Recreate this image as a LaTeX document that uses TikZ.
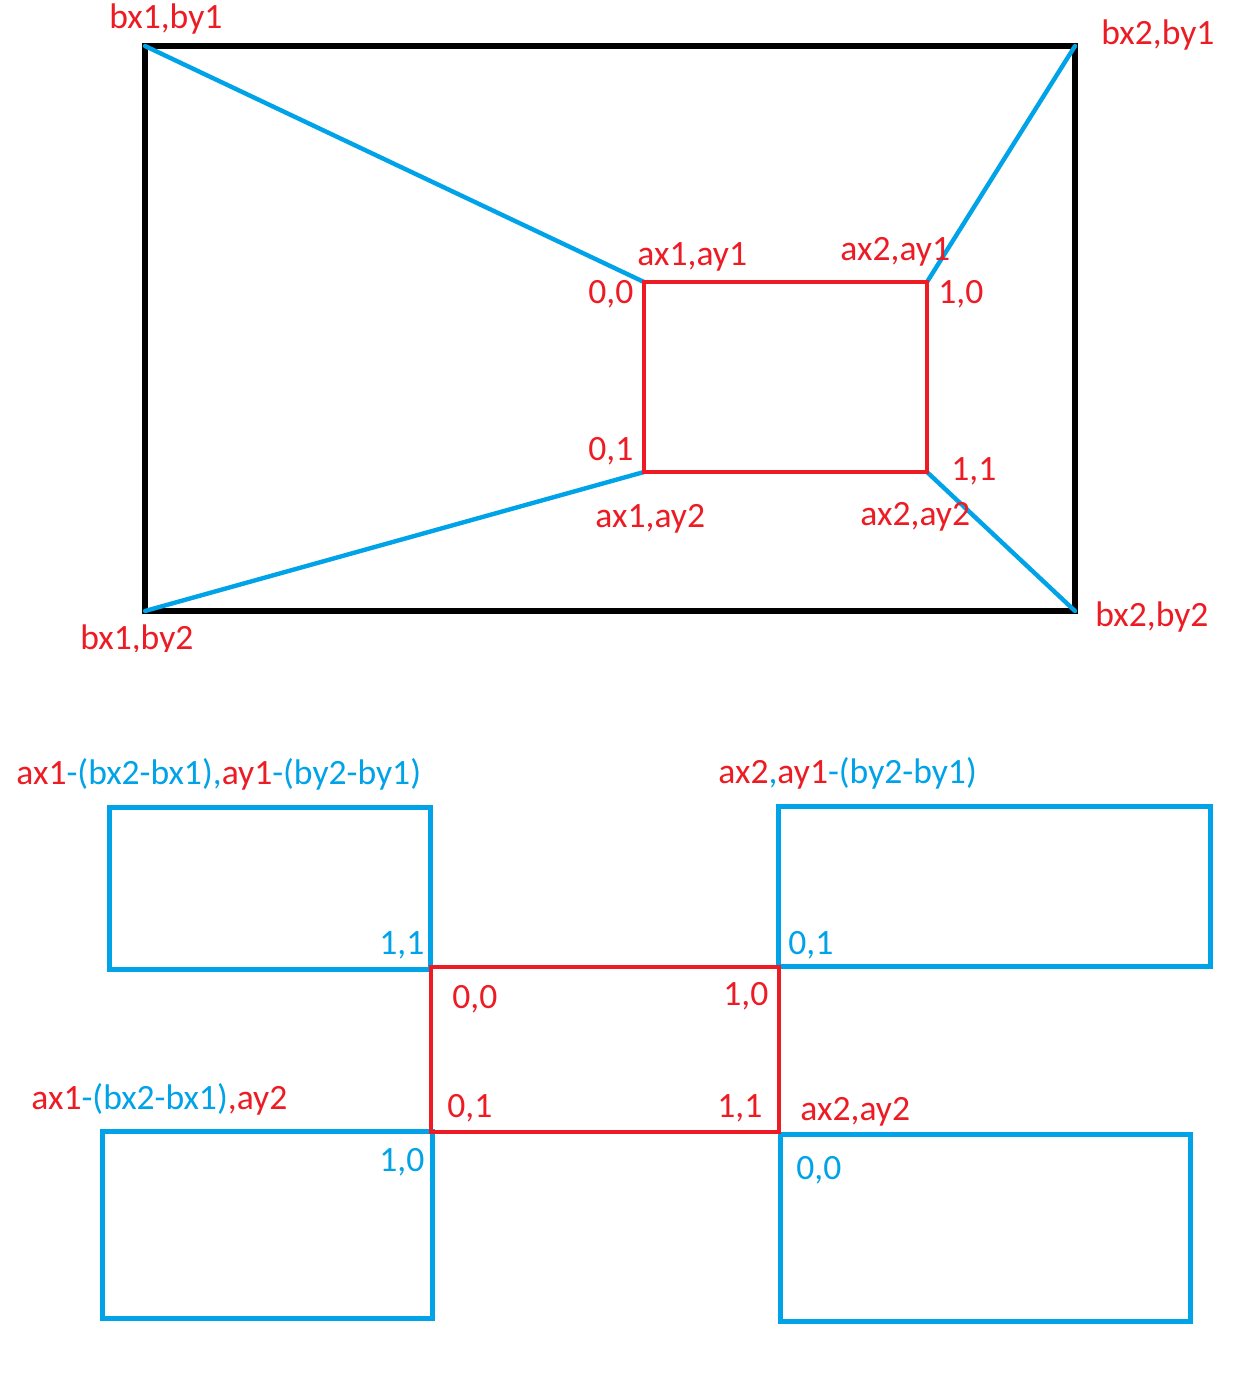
\documentclass[tikz,border=0pt]{standalone}
\usepackage{fontspec}
\setmainfont{Carlito}
\definecolor{pred}{RGB}{237,28,36}
\definecolor{pblue}{RGB}{0,162,232}
\begin{document}
\begin{tikzpicture}[x=0.5pt,y=-0.5pt,
  lbl/.style={inner sep=0pt,anchor=base west,font=\fontsize{17.8}{21}\selectfont},
  rl/.style={lbl,text=pred},
  bl/.style={lbl,text=pblue},
  outerbox/.style={draw=black,line width=2.6pt},
  innerbox/.style={draw=pred,line width=2.3pt},
  bluebox/.style={draw=pblue,line width=2.5pt},
  ray/.style={draw=pblue,line width=2.2pt,line cap=round}]
\useasboundingbox (0,0) rectangle (1252,1393);
% top part
\coordinate (B11) at (145,46);
\coordinate (B21) at (1075,46);
\coordinate (B12) at (145,611);
\coordinate (B22) at (1075,611);
\coordinate (A11) at (644,282);
\coordinate (A21) at (927,282);
\coordinate (A12) at (644,472);
\coordinate (A22) at (927,472);
\draw[outerbox] (B11) rectangle (B22);
\draw[ray] (B11) -- (A11);
\draw[ray] (B21) -- (A21);
\draw[ray] (B12) -- (A12);
\draw[ray] (B22) -- (A22);
\draw[innerbox] (A11) rectangle (A22);
\node[rl] (tb11) at (109,28) {bx1,by1};
\node[rl] (tb21) at (1101,44) {bx2,by1};
\begin{scope}
\clip (0,0) rectangle (1252,651);
\node[rl] (tb12) at (80,649) {bx1,by2};
\end{scope}
\node[rl] (tb22) at (1095,626) {bx2,by2};
\node[rl] (ta11) at (637,265) {ax1,ay1};
\node[rl] (ta21) at (840,260) {ax2,ay1};
\node[rl] (ta12) at (595,527) {ax1,ay2};
\node[rl] (ta22) at (860,525) {ax2,ay2};
\node[rl] (t00) at (588,303) {0,0};
\node[rl] (t10) at (938,303) {1,0};
\node[rl] (t01) at (588,460) {0,1};
\node[rl] (t11) at (951,480) {1,1};
% bottom part
\draw[bluebox] (109,807) rectangle (430,969);
\draw[bluebox] (778,806) rectangle (1210,966);
\draw[bluebox] (102,1131) rectangle (432,1318);
\draw[bluebox] (780,1134) rectangle (1190,1321);
\draw[innerbox] (431,967) rectangle (779,1132);
\node[lbl] (q1) at (16,784) {\textcolor{pred}{ax1}\textcolor{pblue}{-(bx2-bx1),}\textcolor{pred}{ay1}\textcolor{pblue}{-(by2-by1)}};
\node[lbl] (q2) at (718,783) {\textcolor{pred}{ax2}\textcolor{pblue}{,}\textcolor{pred}{ay1}\textcolor{pblue}{-(by2-by1)}};
\node[lbl] (q3) at (31,1109) {\textcolor{pred}{ax1}\textcolor{pblue}{-(bx2-bx1)}\textcolor{pred}{,ay2}};
\node[rl] (q4) at (800,1120) {ax2,ay2};
\node[bl] (b11) at (379,954) {1,1};
\node[bl] (b01) at (788,954) {0,1};
\node[bl] (b10) at (379,1171) {1,0};
\node[bl] (b00) at (796,1179) {0,0};
\node[rl] (r00) at (452,1008) {0,0};
\node[rl] (r10) at (723,1005) {1,0};
\node[rl] (r01) at (447,1117) {0,1};
\node[rl] (r11) at (717,1117) {1,1};
\end{tikzpicture}
\end{document}
